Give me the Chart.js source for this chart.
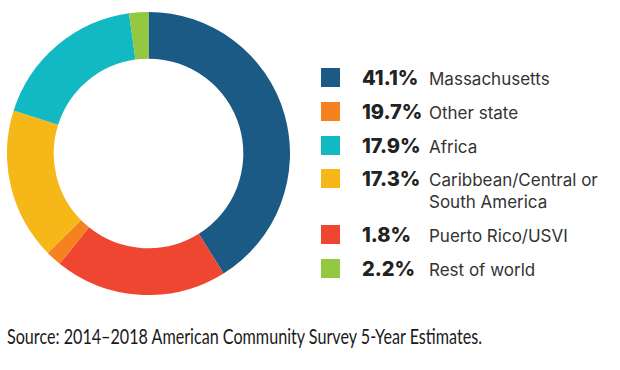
<!DOCTYPE html>
<html>
<head>
<meta charset="utf-8">
<script src="https://cdn.jsdelivr.net/npm/chart.js@4"></script>
<style>
  body { margin: 0; width: 620px; height: 370px; background: #fff; position: relative; overflow: hidden; }
  #wrap { position: absolute; left: 7px; top: 12px; width: 283px; height: 283px; }
  #legend { position: absolute; left: 321px; top: 0; font-family: Inter, 'Noto Sans', sans-serif; }
  .row { position: absolute; left: 0; white-space: nowrap; }
  .sw { position: absolute; left: 0; top: 0; width: 19px; height: 19px; }
  .pct { position: absolute; left: 41px; top: -2px; font-size: 20px; font-weight: 800; color: #222; line-height: 24px; }
  .lab { position: absolute; left: 108px; top: 0; font-size: 17px; color: #333; line-height: 22px; }
  #source { position: absolute; left: 7px; top: 324px; font-family: Lato, sans-serif; font-size: 21px; color: #1a1a1a;
            white-space: nowrap; transform-origin: 0 0; line-height: 24px; }
</style>
</head>
<body>
<div id="wrap"><canvas id="donut"></canvas></div>
<div id="legend"></div>
<div id="source">Source: 2014–2018 American Community Survey 5-Year Estimates.</div>
<script>
// legend order (as printed)
const categories = ['Massachusetts', 'Other state', 'Africa', 'Caribbean/Central or\nSouth America', 'Puerto Rico/USVI', 'Rest of world'];
const shares = [41.1, 19.7, 17.9, 17.3, 1.8, 2.2];
const legendColors = ['#1b5a84', '#f5821f', '#12b8c2', '#f6b718', '#ee4631', '#95c841'];
const rowTops = [68, 102, 136, 169, 225, 259];

// ring order, clockwise from 12 o'clock, as drawn in the picture
const sliceOrder = [0, 1, 4, 3, 2, 5];
const sliceColors = ['#1b5a84', '#ee4631', '#f5821f', '#f6b718', '#12b8c2', '#95c841'];

const legend = document.getElementById('legend');
categories.forEach((c, i) => {
  const row = document.createElement('div');
  row.className = 'row';
  row.style.top = rowTops[i] + 'px';
  row.innerHTML = '<div class="sw" style="background:' + legendColors[i] + '"></div>' +
    '<div class="pct">' + shares[i].toFixed(1) + '%</div>' +
    '<div class="lab">' + c.replace('\n', '<br>') + '</div>';
  legend.appendChild(row);
});

const src = document.getElementById('source');
src.style.transform = 'scaleX(' + (475 / src.offsetWidth) + ')';

new Chart(document.getElementById('donut'), {
  type: 'doughnut',
  data: {
    labels: sliceOrder.map(i => categories[i].replace('\n', ' ')),
    datasets: [{
      data: sliceOrder.map(i => shares[i]),
      backgroundColor: sliceColors,
      borderWidth: 0
    }]
  },
  options: {
    responsive: true,
    maintainAspectRatio: false,
    animation: false,
    cutout: '67%',
    layout: { padding: 0 },
    plugins: {
      legend: { display: false },
      tooltip: { enabled: false }
    }
  }
});
</script>
</body>
</html>
